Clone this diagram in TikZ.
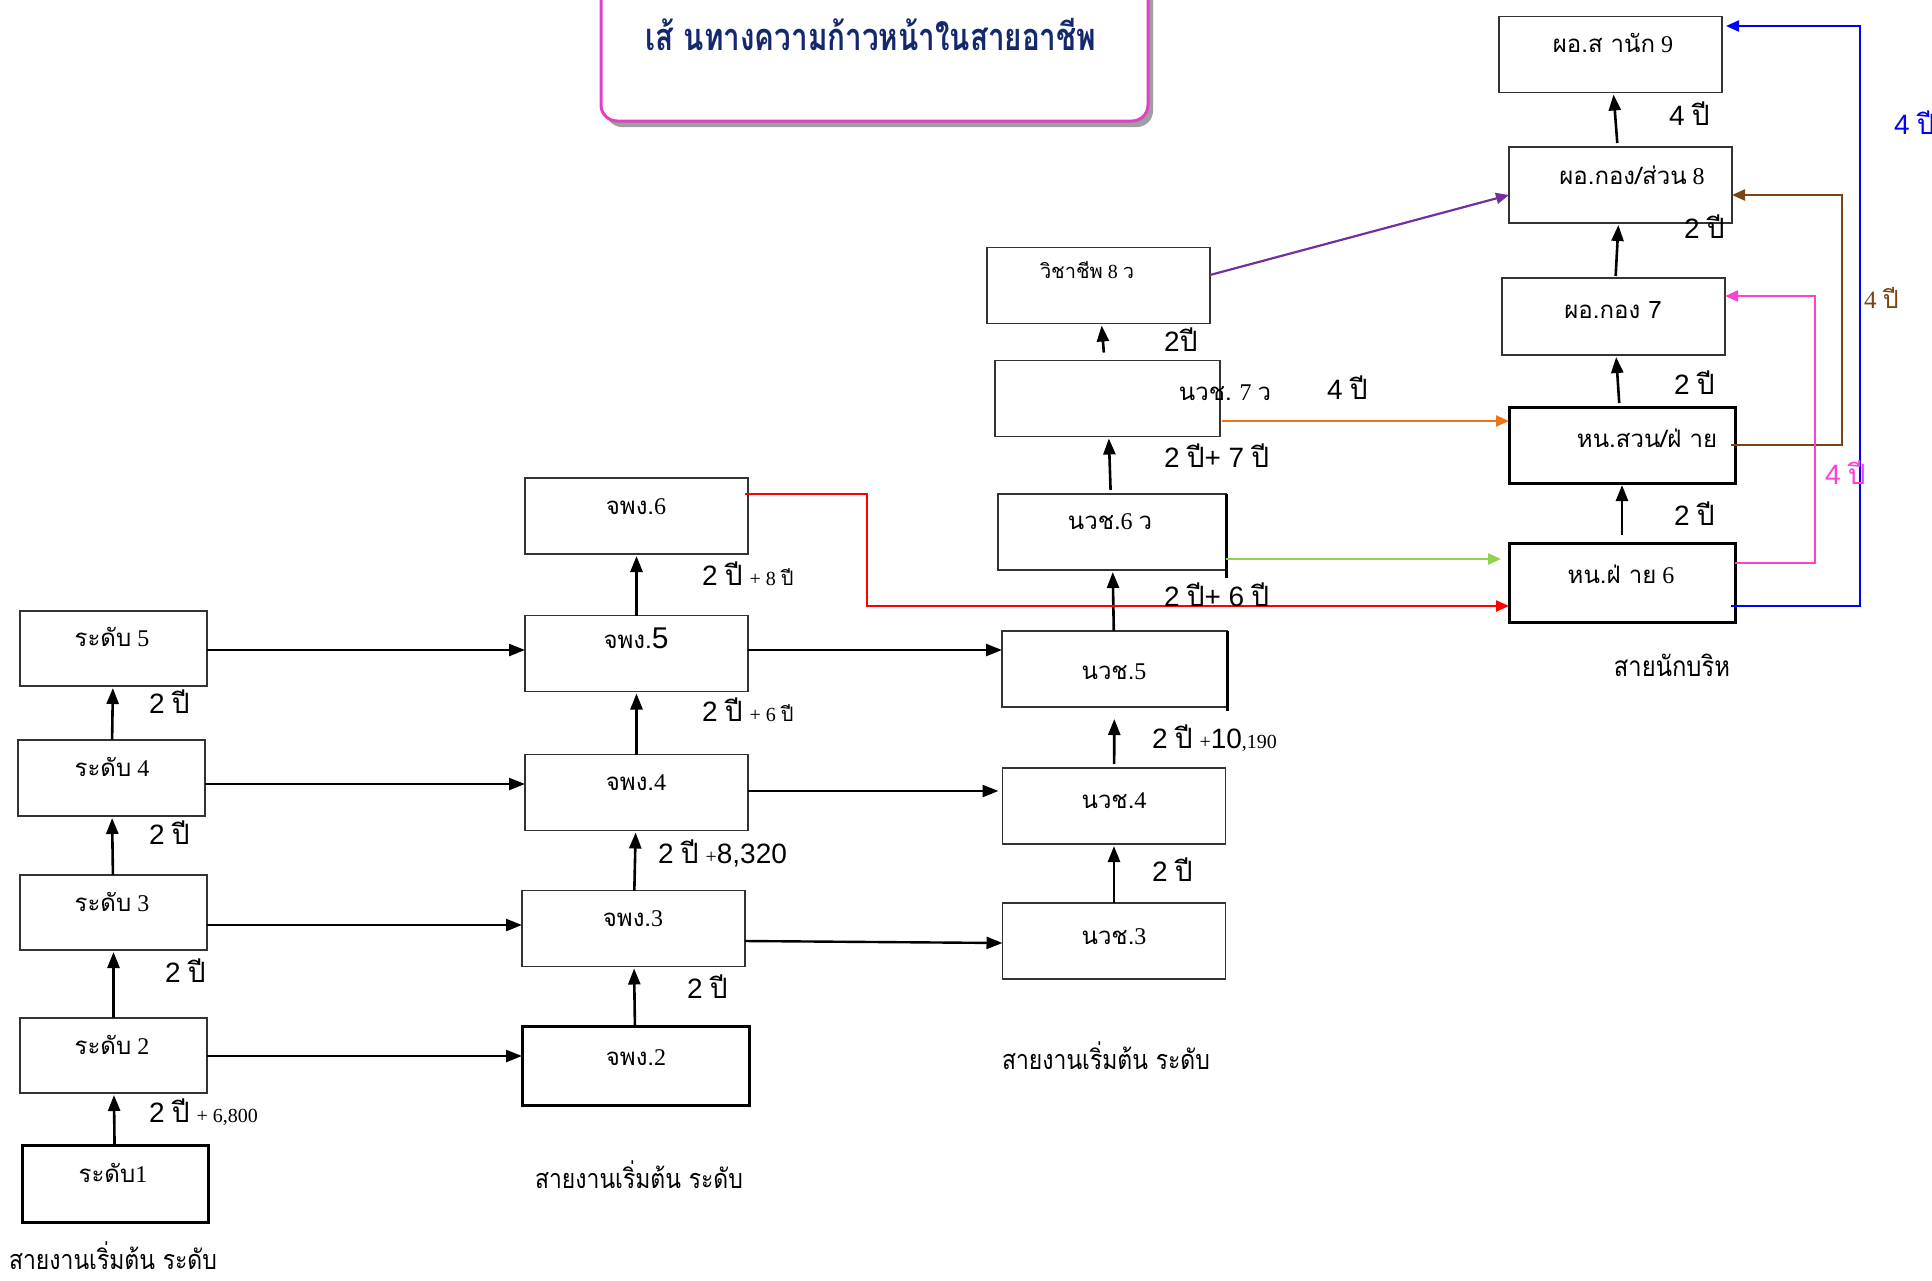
\documentclass[tikz,border=0pt]{standalone}
\usepackage{fontspec}
\setmainfont{Liberation Serif}
\newfontfamily\thai[Script=Thai]{Loma}
\newfontfamily\thaic[Script=Thai,FakeStretch=0.85]{Loma}
\newfontfamily\thait[Script=Thai,FakeStretch=0.78]{Loma}
\newfontfamily\arialf{Liberation Sans}
\usetikzlibrary{arrows.meta}
\definecolor{navy}{HTML}{14286E}
\definecolor{titlepink}{HTML}{E040C8}
\definecolor{lgreen}{HTML}{92D050}
\definecolor{orng}{HTML}{E8761C}
\definecolor{purp}{HTML}{7030A0}
\definecolor{brwn}{HTML}{7A4414}
\definecolor{pnk}{HTML}{FF40D0}
\newcommand\Ar[1]{{\arialf #1}}
\newcommand\Th[1]{{\thai #1}}
\newcommand\Sm[1]{{\fontsize{20}{22}\selectfont #1}}
\newcommand\Pee{\Th{ปี}}
\tikzset{
  box/.style={draw=black!80, line width=1.6pt, minimum width=223pt, minimum height=76pt, inner sep=0pt, outer sep=0pt},
  boxb/.style={box, draw=black, line width=3pt},
  bt/.style={font=\fontsize{24}{28}\selectfont, anchor=base, inner sep=0pt},
  captxt/.style={font=\thaic\fontsize{27}{30}\selectfont, anchor=base, inner sep=0pt},
  lab/.style={font=\fontsize{28}{32}\selectfont, anchor=base west, inner sep=0pt},
  uparr/.style={-{Triangle[length=16pt,width=12pt]}, line width=2.6pt, black, shorten >=2pt},
  rtarr/.style={-{Triangle[length=16pt,width=12pt]}, line width=2.4pt, black},
  colarr/.style={-{Triangle[length=13pt,width=11pt]}, line width=2.2pt},
}
\begin{document}
\begin{tikzpicture}[x=1pt,y=-1pt]
\useasboundingbox (0,0) rectangle (1932,1280);
% title box
\fill[gray!75, rounded corners=16pt] (606,-30) rectangle (1153,127);
\draw[fill=white, draw=titlepink, line width=3pt, rounded corners=16pt] (601,-30) rectangle (1148,121);
\node[font=\thait\bfseries\fontsize{38}{44}\selectfont, text=navy, anchor=base, inner sep=0pt] (title) at (871,50) {เส้ นทางความก้าวหน้าในสายอาชีพ};

% column 1
\node[box, minimum width=187pt, minimum height=75pt] (l5) at (113.5,648.5) {};
\node[box, minimum width=187pt, minimum height=76pt] (l4) at (111.5,778) {};
\node[box, minimum width=187pt, minimum height=75pt] (l3) at (113.5,912.5) {};
\node[box, minimum width=187pt, minimum height=75pt] (l2) at (113.5,1055.5) {};
\node[boxb, minimum width=186pt, minimum height=77pt] (l1) at (115,1183.5) {};
\node[bt] (l5t) at (112,646) {\Th{ระดับ} 5};
\node[bt] (l4t) at (112,776) {\Th{ระดับ} 4};
\node[bt] (l3t) at (112,911) {\Th{ระดับ} 3};
\node[bt] (l2t) at (112,1054) {\Th{ระดับ} 2};
\node[bt] (l1t) at (113,1182) {\Th{ระดับ}1};
\node[captxt] (c1) at (113,1269) {สายงานเริ่มต้น ระดับ};

% column 2
\node[box] (j6) at (636.5,516) {};
\node[box] (j5) at (636.5,653.5) {};
\node[box] (j4) at (636.5,792.5) {};
\node[box] (j3) at (633.5,928.5) {};
\node[boxb, minimum width=227pt, minimum height=79pt] (j2) at (635.5,1065.5) {};
\node[bt] (j6t) at (636,514) {\Th{จพง.}6};
\node[bt] (j5t) at (636,648) {\Th{จพง.}\Ar{\fontsize{30}{32}\selectfont 5}};
\node[bt] (j4t) at (636,790) {\Th{จพง.}4};
\node[bt] (j3t) at (633,926) {\Th{จพง.}3};
\node[bt] (j2t) at (636,1065) {\Th{จพง.}2};
\node[captxt] (c2) at (639,1188) {สายงานเริ่มต้น ระดับ};

% column 3
\node[box] (v8) at (1098.5,285.5) {};
\node[box, minimum width=225pt] (n7) at (1107.5,398.5) {};
\node[box, minimum width=228pt] (n6) at (1112,532) {};
\node[box, minimum width=225pt] (n5) at (1114.5,669) {};
\node[box] (n4) at (1114,806) {};
\node[box] (n3) at (1114,941) {};
\draw[line width=3pt] (n6.north east) -- ([yshift=-8pt]n6.south east);
\draw[line width=3pt] (n5.north east) -- ([yshift=-4pt]n5.south east);
\node[bt, font=\fontsize{20}{24}\selectfont] (v8t) at (1087,278) {\Th{วิชาชีพ} 8 \Th{ว}};
\node[bt] (n7t) at (1225,400) {\Th{นวช.} 7 \Th{ว}};
\node[bt] (n6t) at (1110,529) {\Th{นวช.}6 \Th{ว}};
\node[bt] (n5t) at (1114,679) {\Th{นวช.}5};
\node[bt] (n4t) at (1114,808) {\Th{นวช.}4};
\node[bt] (n3t) at (1114,944) {\Th{นวช.}3};
\node[captxt] (c3) at (1106,1069) {สายงานเริ่มต้น ระดับ};

% column 4
\node[box] (p9) at (1610.5,54.5) {};
\node[box] (p8) at (1620.5,185) {};
\node[box, minimum height=77pt] (p7) at (1613.5,316.5) {};
\node[boxb, minimum width=226pt] (hs) at (1622,445) {};
\node[boxb, minimum width=226pt, minimum height=79pt] (h6) at (1622,582.5) {};
\node[bt] (p9t) at (1613,52) {\Th{ผอ.ส านัก} 9};
\node[bt] (p8t) at (1632,184) {\Th{ผอ.กอง/ส่วน} 8};
\node[bt] (p7t) at (1613,318) {\Th{ผอ.กอง 7}};
\node[bt] (hst) at (1647,447) {\Th{หน.สวน/ฝ่ าย}};
\node[bt] (h6t) at (1621,583) {\Th{หน.ฝ่ าย} 6};
\node[captxt, font=\thaic\fontsize{28}{30}\selectfont] (c4) at (1672,676) {สายนักบริห};

% vertical arrows
\draw[uparr] (l1) -- (l2);
\draw[uparr] (l2) -- (l3);
\draw[uparr] (l3) -- (l4);
\draw[uparr] (l4) -- (l5);
\draw[uparr] (j2) -- (j3);
\draw[uparr] (j3) -- (j4);
\draw[uparr] (j4) -- (j5);
\draw[uparr] (j5) -- (j6);
\draw[uparr] (n3) -- (n4);
\draw[uparr, shorten >=12pt, shorten <=4pt] (n4) -- (n5);
\draw[uparr] (n5) -- (n6);
\draw[uparr, shorten <=4pt] (n6) -- (n7);
\draw[uparr, shorten <=8pt] (n7) -- (v8);
\draw[uparr, shorten <=8pt] (h6) -- (hs);
\draw[uparr, shorten <=4pt] (hs) -- (p7);
\draw[uparr, shorten <=2pt] (p7) -- (p8);
\draw[uparr, shorten <=4pt] (p8) -- (p9);

% horizontal arrows
\draw[rtarr] (l5.east |- 0,650) -- (j5.west |- 0,650);
\draw[rtarr] (l4.east |- 0,784) -- (j4.west |- 0,784);
\draw[rtarr] (l3.east |- 0,925) -- (j3.west |- 0,925);
\draw[rtarr] (l2.east |- 0,1056) -- (j2.west |- 0,1056);
\draw[rtarr] (j5.east |- 0,650) -- (n5.west |- 0,650);
\draw[rtarr] (j4.east |- 0,791) -- ([xshift=-4pt]n4.west |- 0,791);
\draw[rtarr] (j3.east |- 0,941) -- (n3.west |- 0,943);

% coloured connectors
\draw[colarr, red] ([xshift=-3pt]j6.east |- 0,494) -- (867,494) -- (867,606) -- (h6.west |- 0,606);
\draw[colarr, lgreen] (n6.east |- 0,559) -- ([xshift=-8pt]h6.west |- 0,559);
\draw[colarr, orng] ([xshift=2pt]n7.east |- 0,421) -- (hs.west |- 0,421);
\draw[colarr, purp] (v8.east |- 0,275) -- (p8.west |- 0,195);
\draw[colarr, brwn] ([xshift=-4pt]hs.east |- 0,445) -- (1842,445) -- (1842,195) -- (p8.east |- 0,195);
\draw[colarr, pnk] (h6.east |- 0,563) -- (1815,563) -- (1815,296) -- (p7.east |- 0,296);
\draw[colarr, blue] ([xshift=-4pt]h6.east |- 0,606) -- (1860,606) -- (1860,26) -- ([xshift=4pt]p9.east |- 0,26);

% labels
\node[lab] (a1) at (149,713) {\Ar{2} \Pee};
\node[lab] (a2) at (149,844) {\Ar{2} \Pee};
\node[lab] (a3) at (165,982) {\Ar{2} \Pee};
\node[lab] (a4) at (149,1122) {\Ar{2} \Pee\ \Sm{+ 6,800}};
\node[lab] (b1) at (702,585) {\Ar{2} \Pee\ \Sm{+ 8 \Th{ปี}}};
\node[lab] (b2) at (702,721) {\Ar{2} \Pee\ \Sm{+ 6 \Th{ปี}}};
\node[lab] (b3) at (658,863) {\Ar{2} \Pee\ \Sm{+}\Ar{8,320}};
\node[lab] (b4) at (687,998) {\Ar{2} \Pee};
\node[lab] (d1) at (1164,351) {\Ar{2}\Pee};
\node[lab] (d2) at (1164,467) {\Ar{2} \Pee\Ar{+ 7} \Pee};
\node[lab] (d3) at (1164,606) {\Ar{2} \Pee\Ar{+ 6} \Pee};
\node[lab] (d4) at (1152,748) {\Ar{2} \Pee\ \Sm{+}\Ar{10}\Sm{,190}};
\node[lab] (d5) at (1152,881) {\Ar{2} \Pee};
\node[lab] (o1) at (1327,399) {\Ar{4} \Pee};
\node[lab] (e1) at (1674,525) {\Ar{2} \Pee};
\node[lab] (e2) at (1674,394) {\Ar{2} \Pee};
\node[lab] (e3) at (1684,238) {\Ar{2} \Pee};
\node[lab] (e4) at (1669,125) {\Ar{4} \Pee};
\node[lab, font=\fontsize{25}{28}\selectfont, text=brwn] (f1) at (1864,308) {4 \Th{ปี}};
\node[lab, text=pnk] (f2) at (1825,484) {\Ar{4} \Pee};
\node[lab, text=blue] (f3) at (1894,134) {\Ar{4} \Pee};
\end{tikzpicture}
\end{document}
